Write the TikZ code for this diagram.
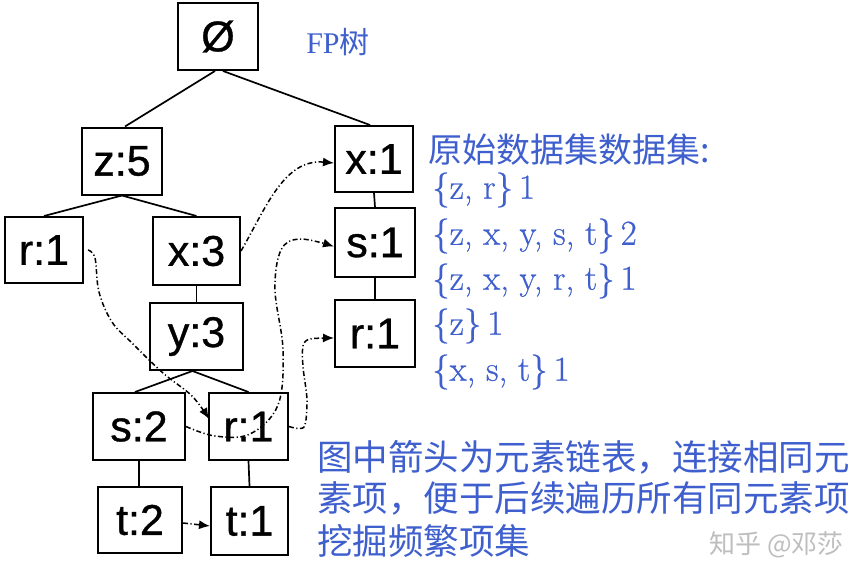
\documentclass[tikz,border=0pt]{standalone}
\usepackage{fontspec}
\setmainfont{Liberation Sans}
\newfontfamily\cjk{Noto Sans CJK SC}
\newfontfamily\lmr[FakeBold=0.6]{Latin Modern Roman}
\newfontfamily\serif{Liberation Serif}
\newfontfamily\boxfont[FakeBold=0.8]{Liberation Sans}
\usetikzlibrary{arrows.meta}
\definecolor{txtblue}{RGB}{62,95,205}
\definecolor{wmgray}{RGB}{190,190,190}
\tikzset{
  box/.style={draw, line width=2pt, inner sep=0pt, minimum width=80pt, minimum height=67pt,
    font=\fontsize{43}{46}\selectfont\boxfont},
  edge/.style={line width=1.7pt},
  arr/.style={line width=1.5pt, dash pattern=on 5pt off 2.5pt on 1.2pt off 2.5pt,
    -{Latex[length=11pt,width=9pt]}},
  bluetxt/.style={text=txtblue, inner sep=0pt, anchor=west},
}
\begin{document}
\begin{tikzpicture}[x=1pt,y=-1pt]
\useasboundingbox (0,0) rectangle (868,578);
\fill[white] (0,0) rectangle (868,578);
% boxes
\node[box] (root) at (218,36.5) {Ø};
\node[box] (z5) at (122,161) {z:5};
\node[box, minimum width=78pt, minimum height=66pt] (x1) at (374,159) {x:1};
\node[box, minimum width=78pt, minimum height=66pt] (rl) at (44,250) {r:1};
\node[box, minimum width=87pt, minimum height=68pt] (x3) at (196.5,251) {x:3};
\node[box, minimum height=69pt] (s1) at (375,242.5) {s:1};
\node[box, minimum width=93pt] (y3) at (196.5,336.5) {y:3};
\node[box] (rr) at (375,333.5) {r:1};
\node[box, minimum width=92pt] (s2) at (139,426.5) {s:2};
\node[box, minimum width=79pt] (rb) at (248.5,426.5) {r:1};
\node[box, minimum width=84pt, minimum height=66pt] (t2) at (140,520) {t:2};
\node[box, minimum width=77pt, minimum height=68pt] (t1) at (249.5,521) {t:1};
% tree edges
\draw[edge] ([xshift=-3pt]root.south) -- ([xshift=3pt]z5.north);
\draw[edge] ([xshift=5pt]root.south) -- ([xshift=-4pt]x1.north);
\draw[edge] (z5.south) -- (rl.north);
\draw[edge] (z5.south) -- (x3.north);
\draw[edge] (x3.south) -- (y3.north);
\draw[edge] (x1.south) -- (s1.north);
\draw[edge] (s1.south) -- (rr.north);
\draw[edge] ([xshift=-4pt]y3.south) -- ([xshift=-4pt]s2.north);
\draw[edge] ([xshift=-4pt]y3.south) -- (rb.north);
\draw[edge] (s2.south) -- ([xshift=-1pt]t2.north);
\draw[edge] (rb.south) -- (t1.north);
% node-link arrows
\draw[arr] (x3.east) to[out=60,in=175] ([yshift=-4pt]x1.west);
\draw[arr] plot[smooth, tension=0.6] coordinates {(s2.east) (215,436) (250,434) (278,405) (283,350) (275,290) (281,250) (300,239) ([yshift=-4pt]s1.west)};
\draw[arr] plot[smooth, tension=0.5] coordinates {(rb.east) (304,427) (307,400) (303,367) (303,346) (310,339) ([yshift=-4.5pt]rr.west)};
\draw[arr] plot[smooth, tension=0.6] coordinates {([xshift=4pt]rl.east) (95,258) (99,292) (112,322) (132,343) (163,373) (192,396) ([xshift=1pt,yshift=-27pt]rb.north west)};
\draw[arr] ([yshift=-3pt]t2.east) -- ([yshift=-5pt]t1.west);
% texts
\node[text=txtblue, inner sep=0pt] (fp) at (338,42) {\fontsize{30}{34}\selectfont\serif FP\cjk 树};
\node[bluetxt] (title) at (428,150) {\fontsize{34}{38}\selectfont\cjk 原始数据集数据集:};
\node[bluetxt] (d1) at (432,190) {\fontsize{35}{38}\selectfont\lmr \{z, r\}\,1};
\node[bluetxt] (d2) at (432,236) {\fontsize{35}{38}\selectfont\lmr \{z, x, y, s, t\}\,2};
\node[bluetxt] (d3) at (432,281) {\fontsize{35}{38}\selectfont\lmr \{z, x, y, r, t\}\,1};
\node[bluetxt] (d4) at (432,326) {\fontsize{35}{38}\selectfont\lmr \{z\}\,1};
\node[bluetxt] (d5) at (432,372) {\fontsize{35}{38}\selectfont\lmr \{x, s, t\}\,1};
\node[bluetxt] (n1) at (317,457) {\fontsize{35.5}{40}\selectfont\cjk 图中箭头为元素链表，连接相同元};
\node[bluetxt] (n2) at (317,498) {\fontsize{35.5}{40}\selectfont\cjk 素项，便于后续遍历所有同元素项};
\node[bluetxt] (n3) at (317,541) {\fontsize{35.5}{40}\selectfont\cjk 挖掘频繁项集};
\node[text=wmgray, inner sep=0pt, anchor=west] (wm) at (709,545) {\fontsize{26}{30}\selectfont\cjk 知乎 @邓莎};
\end{tikzpicture}
\end{document}
